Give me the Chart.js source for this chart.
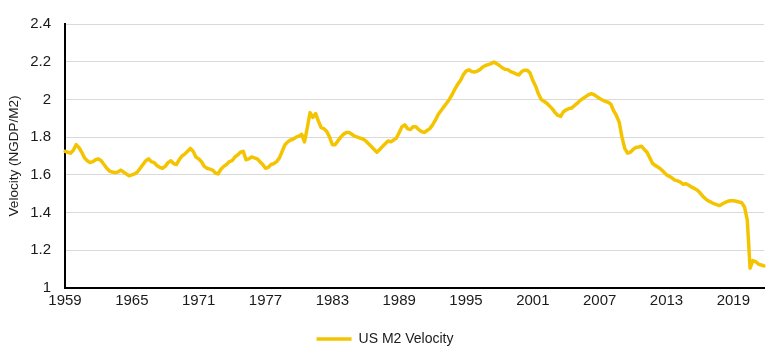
<!DOCTYPE html>
<html>
<head>
<meta charset="utf-8">
<script src="https://cdn.jsdelivr.net/npm/chart.js@4.4.1/dist/chart.umd.min.js"></script>
<style>
  html, body { margin: 0; padding: 0; background: #ffffff; }
  #wrap { width: 780px; height: 356px; }
</style>
</head>
<body>
<div id="wrap"><canvas id="c" width="780" height="356"></canvas></div>
<script>
// ---- Data (quarterly, 1959Q1 - 2021Q4) ----
const firstYear = 1959;
const lastYear = 2021;
const seriesName = 'US M2 Velocity';
const yAxisTitle = 'Velocity (NGDP/M2)';
const xTickLabels = ['1959','1965','1971','1977','1983','1989','1995','2001','2007','2013','2019'];
const yTickValues = [1, 1.2, 1.4, 1.6, 1.8, 2, 2.2, 2.4];

const v1959s = [
  1.725, 1.72, 1.715, 1.73,
  1.76, 1.745, 1.72, 1.69,
  1.675, 1.665, 1.67, 1.68,
  1.685, 1.675, 1.655, 1.635,
  1.62, 1.615, 1.612, 1.615,
  1.625, 1.615, 1.605, 1.595,
  1.60, 1.605, 1.615, 1.635,
  1.655, 1.675, 1.685, 1.67,
  1.665, 1.65, 1.64, 1.635,
  1.645, 1.665, 1.675, 1.66,
  1.655, 1.68, 1.70, 1.71
];
const v1970s = [
  1.725, 1.74, 1.725, 1.695,
  1.685, 1.67, 1.645, 1.635,
  1.63, 1.625, 1.61, 1.605,
  1.63, 1.645, 1.655, 1.67,
  1.675, 1.695, 1.705, 1.72,
  1.725, 1.68, 1.685, 1.695,
  1.69, 1.685, 1.67, 1.655,
  1.635, 1.64, 1.655, 1.66,
  1.67, 1.69, 1.725, 1.76,
  1.775, 1.785, 1.79, 1.80
];
const v1980s = [
  1.805, 1.815, 1.775, 1.85,
  1.93, 1.905, 1.925, 1.885,
  1.85, 1.845, 1.83, 1.80,
  1.76, 1.76, 1.78, 1.80,
  1.815, 1.825, 1.825, 1.815,
  1.805, 1.80, 1.795, 1.79,
  1.78, 1.765, 1.75, 1.735,
  1.72, 1.735, 1.75, 1.765,
  1.78, 1.775, 1.785, 1.795,
  1.825, 1.855, 1.865, 1.845
];
const v1990s = [
  1.84, 1.855, 1.855, 1.84,
  1.83, 1.825, 1.835, 1.845,
  1.865, 1.89, 1.92, 1.94,
  1.96, 1.98, 2.00, 2.025,
  2.055, 2.08, 2.10, 2.13,
  2.15, 2.157, 2.148, 2.145,
  2.15, 2.158, 2.172, 2.18,
  2.185, 2.19, 2.198, 2.19,
  2.18, 2.168, 2.16, 2.158,
  2.148, 2.142, 2.135, 2.13
];
const v2000s = [
  2.148, 2.155, 2.155, 2.14,
  2.10, 2.07, 2.03, 2.00,
  1.99, 1.98, 1.965, 1.95,
  1.93, 1.915, 1.91, 1.935,
  1.945, 1.952, 1.955, 1.968,
  1.98, 1.995, 2.005, 2.015,
  2.025, 2.03, 2.025, 2.015,
  2.005, 1.997, 1.99, 1.985,
  1.975, 1.94, 1.915, 1.88,
  1.80, 1.74, 1.715, 1.72
];
const v2010s = [
  1.735, 1.745, 1.748, 1.752,
  1.735, 1.72, 1.69, 1.66,
  1.65, 1.64, 1.63, 1.615,
  1.60, 1.592, 1.583, 1.572,
  1.568, 1.562, 1.55, 1.553,
  1.545, 1.535, 1.528, 1.52,
  1.505, 1.487, 1.473, 1.462,
  1.455, 1.447, 1.442, 1.437,
  1.445, 1.453, 1.46, 1.463,
  1.463, 1.46, 1.456, 1.452
];
const v2020s = [
  1.43, 1.36, 1.105, 1.145,
  1.14, 1.127, 1.122, 1.117
];

// ---- Build chart inputs ----
const velocity = [].concat(v1959s, v1970s, v1980s, v1990s, v2000s, v2010s, v2020s);
const quarterLabels = [];
for (let y = firstYear; y <= lastYear; y++) {
  for (let q = 1; q <= 4; q++) quarterLabels.push(y + ' Q' + q);
}

const FONT = "'Liberation Sans', Arial, sans-serif";
const TEXT = '#1a1a1a';

new Chart(document.getElementById('c'), {
  type: 'line',
  data: {
    labels: quarterLabels,
    datasets: [{
      label: seriesName,
      data: velocity,
      borderColor: '#F5C400',
      backgroundColor: '#F5C400',
      borderWidth: 3.5,
      pointRadius: 0,
      pointHoverRadius: 0,
      tension: 0,
      borderJoinStyle: 'round',
      borderCapStyle: 'round',
      fill: false
    }]
  },
  options: {
    responsive: false,
    animation: false,
    devicePixelRatio: 1,
    layout: { padding: { left: 6, right: 16, top: 24, bottom: 0 } },
    plugins: {
      tooltip: { enabled: false },
      legend: {
        display: true,
        position: 'bottom',
        labels: {
          usePointStyle: true,
          pointStyle: 'line',
          pointStyleWidth: 35,
          color: TEXT,
          font: { family: FONT, size: 14 },
          padding: 10
        }
      }
    },
    scales: {
      x: {
        type: 'category',
        offset: false,
        grid: { display: false, drawTicks: false, tickLength: 0 },
        border: { display: true, color: '#000000', width: 2 },
        ticks: {
          autoSkip: false,
          maxRotation: 0,
          minRotation: 0,
          padding: 4,
          color: TEXT,
          font: { family: FONT, size: 15 },
          callback: function (value, index) {
            const lbl = this.getLabelForValue(value).slice(0, 4);
            return (index % 24 === 0 && xTickLabels.includes(lbl)) ? lbl : null;
          }
        },
        afterFit: function (scale) { scale.height = 34; }
      },
      y: {
        type: 'linear',
        min: 1,
        max: 2.4,
        afterBuildTicks: function (scale) {
          scale.ticks = yTickValues.map(v => ({ value: v }));
        },
        grid: { color: '#d9d9d9', lineWidth: 1, drawTicks: false, tickLength: 0 },
        border: { display: true, color: '#000000', width: 2 },
        ticks: {
          padding: 14,
          color: TEXT,
          font: { family: FONT, size: 15 },
          callback: v => String(+Number(v).toFixed(1))
        },
        title: {
          display: true,
          text: yAxisTitle,
          color: TEXT,
          font: { family: FONT, size: 13.5 },
          padding: { top: 0, bottom: 0 }
        },
        afterFit: function (scale) { scale.width = 59; }
      }
    }
  }
});
</script>
</body>
</html>
